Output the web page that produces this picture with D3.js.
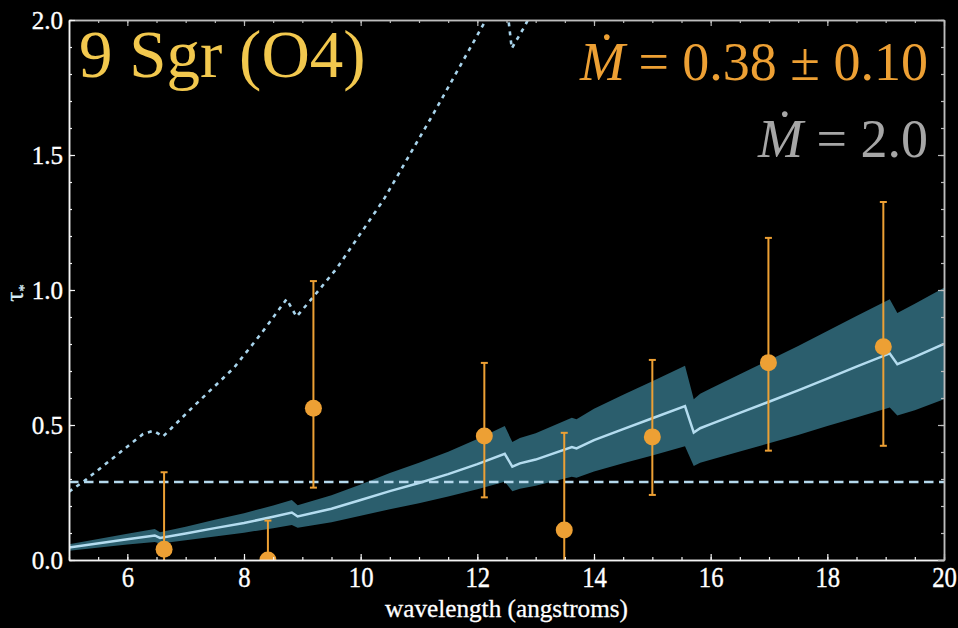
<!DOCTYPE html>
<html><head><meta charset="utf-8">
<script src="https://cdnjs.cloudflare.com/ajax/libs/d3/7.8.5/d3.min.js"></script>
<style>body{margin:0;background:#000}svg{display:block}</style></head>
<body><svg id="c" width="958" height="628"></svg>
<script>
// ---- data ----
const modelLambda = [5.0,6.0,6.47,6.56,7.0,7.5,8.0,8.5,8.82,8.92,9.5,10.0,10.5,11.0,11.5,12.0,12.47,12.6,12.73,13.0,13.62,13.7,14.0,14.5,15.0,15.56,15.71,15.82,16.0,16.5,17.0,17.5,18.0,18.5,19.07,19.2,19.5,20.0];
const modelTau    = [0.046,0.077,0.091,0.082,0.098,0.118,0.137,0.160,0.176,0.161,0.190,0.222,0.255,0.285,0.318,0.355,0.393,0.346,0.358,0.372,0.418,0.413,0.444,0.485,0.525,0.570,0.472,0.488,0.503,0.545,0.586,0.628,0.672,0.716,0.765,0.725,0.752,0.800];
const bandLower   = [0.034,0.057,0.067,0.061,0.073,0.087,0.101,0.118,0.130,0.119,0.140,0.164,0.188,0.210,0.235,0.262,0.290,0.255,0.264,0.275,0.308,0.305,0.328,0.358,0.387,0.421,0.348,0.360,0.371,0.402,0.432,0.463,0.496,0.528,0.565,0.535,0.555,0.595];
const bandUpper   = [0.058,0.097,0.115,0.103,0.123,0.149,0.173,0.202,0.222,0.203,0.240,0.280,0.322,0.360,0.401,0.448,0.496,0.437,0.452,0.469,0.527,0.521,0.560,0.612,0.662,0.719,0.595,0.616,0.635,0.688,0.740,0.793,0.848,0.904,0.966,0.915,0.949,1.008];
const highLambda  = [5.0,5.27,5.7,6.27,6.45,6.61,7.13,7.82,8.3,8.73,8.90,9.19,9.59,10.39,11.25,12.13,12.47,12.59,12.82,13.2];
const highTau     = [0.253,0.294,0.368,0.467,0.479,0.457,0.568,0.710,0.840,0.966,0.901,0.975,1.080,1.333,1.654,1.994,2.12,1.895,1.98,2.15];
const thresholdTau = 0.289;
const obsLambda = [6.63,8.41,9.19,12.12,13.49,15.00,16.99,18.96];
const obsTau    = [0.040,0.000,0.562,0.459,0.111,0.456,0.731,0.790];
const obsLow    = [-0.245,-0.146,0.268,0.232,-0.25,0.241,0.405,0.423];
const obsHigh   = [0.325,0.146,1.033,0.730,0.471,0.741,1.193,1.326];
const xMajor = [6,8,10,12,14,16,18,20];
const xMinor = d3.range(5,20.01,0.5);
const yMajor = [0,0.5,1.0,1.5,2.0];
const yMinor = d3.range(0,2.001,0.1);
const starName = "9 Sgr (O4)";
const fitLabel = " = 0.38 \u00B1 0.10";
const highLabel = " = 2.0";

// ---- layout ----
const W=958,H=628, m={l:69,t:20,r:14,b:68};
const svg=d3.select("#c");
svg.append("rect").attr("width",W).attr("height",H).attr("fill","#000");
const x=d3.scaleLinear().domain([5,20]).range([m.l,W-m.r]);
const y=d3.scaleLinear().domain([0,2]).range([H-m.b,m.t]);

svg.append("clipPath").attr("id","pc").append("rect")
  .attr("x",m.l).attr("y",m.t).attr("width",W-m.r-m.l).attr("height",H-m.b-m.t);
const g=svg.append("g").attr("clip-path","url(#pc)");

const model=modelLambda.map((l,i)=>({l,t:modelTau[i],lo:bandLower[i],hi:bandUpper[i]}));
g.append("path").datum(model)
  .attr("d",d3.area().x(d=>x(d.l)).y0(d=>y(d.lo)).y1(d=>y(d.hi)))
  .attr("fill","#2b5e6d");
g.append("path").datum(model)
  .attr("d",d3.line().x(d=>x(d.l)).y(d=>y(d.t)))
  .attr("fill","none").attr("stroke","#b4dcef").attr("stroke-width",2.5);
g.append("line").attr("x1",x(5)).attr("x2",x(20)).attr("y1",y(thresholdTau)).attr("y2",y(thresholdTau))
  .attr("stroke","#b4d8ec").attr("stroke-width",2.5).attr("stroke-dasharray","9.5,5.5");
g.append("path").datum(highLambda.map((l,i)=>({l,t:highTau[i]})))
  .attr("d",d3.line().x(d=>x(d.l)).y(d=>y(d.t)))
  .attr("fill","none").attr("stroke","#a8d4ec").attr("stroke-width",2.6).attr("stroke-dasharray","4,5");

const obs=obsLambda.map((l,i)=>({l,t:obsTau[i],lo:obsLow[i],hi:obsHigh[i]}));
const oc="#eda034";
const eb=g.append("g").attr("stroke",oc).attr("stroke-width",2);
eb.selectAll(".v").data(obs).join("line").attr("x1",d=>x(d.l)).attr("x2",d=>x(d.l)).attr("y1",d=>y(d.lo)).attr("y2",d=>y(d.hi));
eb.selectAll(".ct").data(obs).join("line").attr("x1",d=>x(d.l)-3.5).attr("x2",d=>x(d.l)+3.5).attr("y1",d=>y(d.hi)).attr("y2",d=>y(d.hi));
eb.selectAll(".cb").data(obs).join("line").attr("x1",d=>x(d.l)-3.5).attr("x2",d=>x(d.l)+3.5).attr("y1",d=>y(d.lo)).attr("y2",d=>y(d.lo));
g.selectAll("circle").data(obs).join("circle").attr("cx",d=>x(d.l)).attr("cy",d=>y(d.t)).attr("r",8.5).attr("fill",oc);

// ---- frame & ticks ----
const light="#f4f4f4", grey="#bdbdbd";
function ax(gen,tr,vals,size,col,fmt){
  const a=svg.append("g").attr("transform",tr)
    .call(gen.tickValues(vals).tickSizeInner(size).tickSizeOuter(0).tickFormat(fmt||""));
  a.select(".domain").attr("stroke",col).attr("stroke-width",1.5);
  a.selectAll(".tick line").attr("stroke",col).attr("stroke-width",1.2);
  return a;
}
const xb=`translate(0,${H-m.b})`, xt=`translate(0,${m.t})`, yl=`translate(${m.l},0)`, yr=`translate(${W-m.r},0)`;
ax(d3.axisBottom(x),xb,xMinor,-3,light);
const xa=ax(d3.axisBottom(x),xb,xMajor,-6,light,d3.format("d"));
ax(d3.axisTop(x),xt,xMinor,-3,grey);
ax(d3.axisTop(x),xt,xMajor,-6,grey);
ax(d3.axisLeft(y),yl,yMinor,-3,light);
const ya=ax(d3.axisLeft(y),yl,yMajor,-6,light,d3.format(".1f"));
ax(d3.axisRight(y),yr,yMinor,-3,grey);
ax(d3.axisRight(y),yr,yMajor,-6,grey);

xa.selectAll(".tick text").attr("y",0).attr("dy",0)
  .attr("transform","translate(0,27) scale(0.95,1.1)")
  .attr("font-family","Liberation Serif").attr("font-size",26).attr("fill","#fff")
  .attr("stroke","#fff").attr("stroke-width",0.35);
ya.selectAll(".tick text").attr("x",-6).attr("dy","0.33em")
  .attr("font-family","Liberation Serif").attr("font-size",25).attr("fill","#fff")
  .attr("stroke","#fff").attr("stroke-width",0.35);

svg.append("text").attr("transform",`translate(${(m.l+W-m.r)/2},${H-11}) scale(0.97,1.0)`)
  .attr("text-anchor","middle").attr("font-family","Liberation Serif").attr("font-size",26).attr("fill","#fff")
  .attr("stroke","#fff").attr("stroke-width",0.3)
  .text("wavelength (angstroms)");

const yt=svg.append("text").attr("transform","translate(23,293) rotate(-90)")
  .attr("text-anchor","middle").attr("font-family","Liberation Serif").attr("font-size",25).attr("fill","#d8ecf6")
  .attr("stroke","#d8ecf6").attr("stroke-width",0.3);
yt.append("tspan").text("\u03C4");
yt.append("tspan").attr("dy",6).attr("font-size",15).text("*");

svg.append("text").attr("x",79).attr("y",77).attr("font-family","Liberation Serif").attr("font-size",67)
  .attr("fill","#f2c84e").text(starName);

const t1=svg.append("text").attr("x",928).attr("y",80).attr("text-anchor","end")
  .attr("font-family","Liberation Serif").attr("font-size",54).attr("fill",oc);
t1.append("tspan").attr("font-style","italic").text("\u1E40");
t1.append("tspan").text(fitLabel);
const t2=svg.append("text").attr("x",928).attr("y",157).attr("text-anchor","end")
  .attr("font-family","Liberation Serif").attr("font-size",54).attr("fill","#a6a6a6");
t2.append("tspan").attr("font-style","italic").text("\u1E40");
t2.append("tspan").text(highLabel);
</script></body></html>
